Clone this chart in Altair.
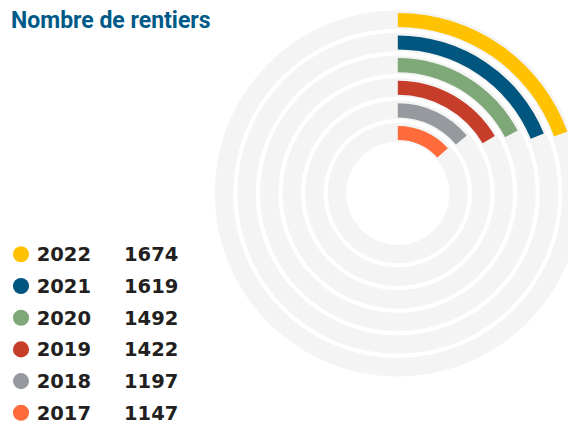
import altair as alt
import pandas as pd

years = [2022, 2021, 2020, 2019, 2018, 2017]
values = [1674, 1619, 1492, 1422, 1197, 1147]
colors = ["#FFC200", "#00567F", "#7FA878", "#C63D2A", "#969A9E", "#FF6B3A"]
title_text = "Nombre de rentiers"

df = pd.DataFrame({"year": years, "value": values})

CX, CY = 389.8, 185.3
theta_scale = alt.Scale(domain=[0, 8610], range=[0, 6.283185])
r_scale = alt.Scale(type="linear", domain=[0, 6], range=[51.6, 187.2], zero=False)
color_scale = alt.Scale(domain=years, range=colors)

base = alt.Chart(df).transform_calculate(
    k="datum.year - 2017",
    i="2022 - datum.year",
    start="0",
)

rings = base.transform_calculate(
    r0="datum.k", r1="datum.k + 0.82"
).mark_arc(color="#F4F4F4").encode(
    theta=alt.value(0),
    theta2=alt.value(6.283185),
    radius=alt.Radius("r1:Q", scale=r_scale),
    radius2="r0:Q",
    x=alt.value(CX),
    y=alt.value(CY),
)

arcs = base.transform_calculate(
    r0="datum.k + 0.075", r1="datum.k + 0.70"
).mark_arc().encode(
    theta=alt.Theta("start:Q", scale=theta_scale, stack=None),
    theta2="value:Q",
    radius=alt.Radius("r1:Q", scale=r_scale),
    radius2="r0:Q",
    color=alt.Color("year:N", scale=color_scale, legend=None),
    x=alt.value(CX),
    y=alt.value(CY),
)

ly = alt.Y("i:Q", scale=alt.Scale(domain=[0, 5], range=[246.3, 404.8]), axis=None)

dots = base.mark_circle(size=260, opacity=1).encode(
    x=alt.value(13),
    y=ly,
    color=alt.Color("year:N", scale=color_scale, legend=None),
)

year_txt = base.mark_text(
    align="left", baseline="middle", font="DejaVu Sans", fontWeight="bold",
    fontSize=19.5, color="#231F20", dy=1,
).encode(x=alt.value(28.7), y=ly, text="year:N")

val_txt = base.mark_text(
    align="left", baseline="middle", font="DejaVu Sans", fontWeight="bold",
    fontSize=19.5, color="#231F20", dy=1,
).encode(x=alt.value(116), y=ly, text="value:Q")

title = alt.Chart(pd.DataFrame({"t": [title_text]})).mark_text(
    align="left", baseline="alphabetic", font="Roboto", fontWeight="bold",
    fontSize=23, color="#005A87",
).encode(x=alt.value(3), y=alt.value(20), text="t:N")

chart = alt.layer(rings, arcs, dots, year_txt, val_txt, title).properties(
    width=560, height=417, padding=0, autosize="none"
).configure_view(stroke=None)

chart.save("out.html", embed_options={"renderer": "svg", "actions": False})
